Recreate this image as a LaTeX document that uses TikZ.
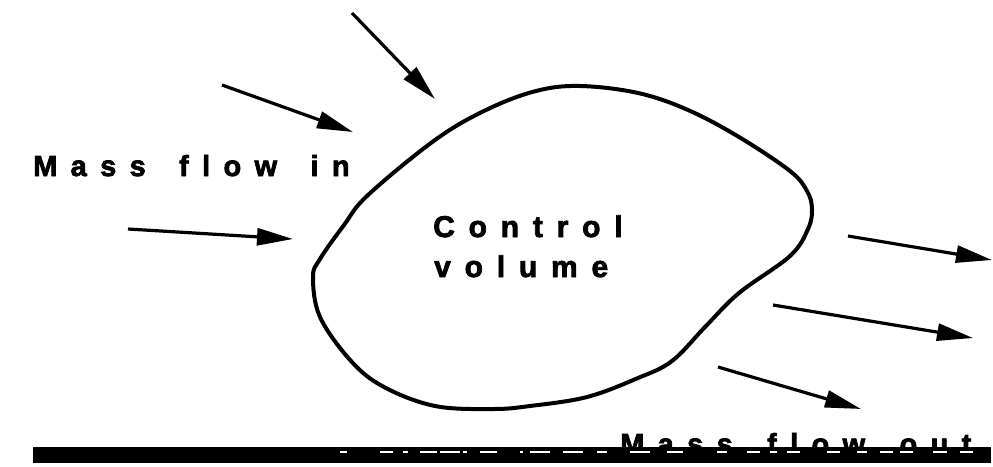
\documentclass[tikz,border=0pt]{standalone}
\usepackage{fontspec}
\setmainfont{Liberation Sans}
\newfontfamily\lsfont{Liberation Sans Bold}[LetterSpace=46,FakeBold=2.5]
\usetikzlibrary{arrows.meta}
\tikzset{
  flow/.style={line width=3.2pt,-{Triangle[length=36pt,width=17pt]}},
  blob/.style={line width=4pt},
  lbl/.style={inner sep=0pt,anchor=base west,font=\lsfont\fontsize{30}{36}\selectfont},
  sml/.style={lbl,font=\lsfont\fontsize{29}{35}\selectfont},
  bar/.style={fill=black,draw=none},
  speck/.style={fill=white,draw=none}
}
\begin{document}
\begin{tikzpicture}[x=1pt,y=-1pt]
\useasboundingbox (0,0) rectangle (993,466);
% control volume outline
\draw[blob] plot[smooth cycle,tension=0.6] coordinates {
 (580,86) (638,93) (688,110) (739,137) (790,171) (807,191) (812,209) (808,229)
 (790,256) (739,293) (705,327) (672,361) (638,378) (587,397) (530,406) (493,409)
 (435,406) (384,387) (351,361) (320,317) (313,277) (320,259) (344,225) (368,195)
 (435,140) (486,110) (536,91)};
% labels
\node[lbl] (cv1) at (433,237) {Control};
\node[lbl] (cv2) at (434,277) {volume};
\node[sml] (min) at (33,176) {Mass\hspace{12pt} flow\hspace{12pt} in};
% inflow arrows
\coordinate (a1s) at (352,13);  \coordinate (a1e) at (435,99);
\coordinate (a2s) at (222,85);  \coordinate (a2e) at (353,132);
\coordinate (a3s) at (128,229); \coordinate (a3e) at (293,239);
\draw[flow] (a1s) -- (a1e);
\draw[flow] (a2s) -- (a2e);
\draw[flow] (a3s) -- (a3e);
% outflow arrows
\coordinate (b1s) at (848,236); \coordinate (b1e) at (992,260);
\coordinate (b2s) at (773,305); \coordinate (b2e) at (973,338);
\coordinate (b3s) at (718,367); \coordinate (b3e) at (861,409);
\draw[flow] (b1s) -- (b1e);
\draw[flow] (b2s) -- (b2e);
\draw[flow] (b3s) -- (b3e);
% bottom bar with outflow label
\node[sml] (mout) at (620,454) {Mass\hspace{13pt} flow\hspace{13pt} out};
\fill[bar] (33,447) rectangle (991,463);
\foreach \a/\b in {340/347,380/393,403/408,420/437,440/460,463/467,480/497,520/523,530/550,563/583,597/607,630/650,
  667/683,717/727,747/760,770/777,787/800,827/840,857/867,880/893,900/913,933/947,960/973}
  \fill[speck] (\a,451) rectangle (\b,453);
\end{tikzpicture}
\end{document}
